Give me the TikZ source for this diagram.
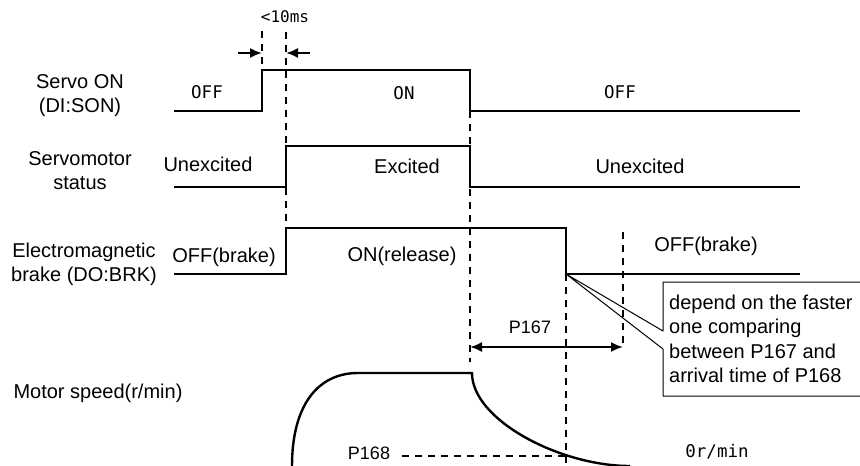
\documentclass[tikz,border=0pt]{standalone}
\usepackage{fontspec}
\setmainfont{Liberation Sans}
\newfontfamily\monofont{DejaVu Sans Mono}
\usetikzlibrary{arrows.meta}
\tikzset{
	sig/.style={line width=2.4pt},
	guide/.style={line width=1.2pt, dash pattern=on 7pt off 6pt, line cap=butt},
	monotxt/.style={font=\monofont\fontsize{17.5}{20}\selectfont},
	lbl/.style={align=center},
	ptxt/.style={font=\fontsize{18}{20}\selectfont},
}
\begin{document}
\begin{tikzpicture}[x=1pt, y=-1pt, font=\fontsize{20}{24}\selectfont, line join=miter, >={Latex[length=12pt,width=10pt]}]
			\useasboundingbox (0,0) rectangle (860,466);
			\draw[sig] (174,111)--(262,111)--(262,70)--(470,70)--(470,111)--(800,111);
			\draw[sig] (174,187)--(286,187)--(286,146)--(470,146)--(470,187)--(800,187);
			\draw[sig] (174,274)--(286,274)--(286,228)--(566,228)--(566,274)--(800,274);
			\draw[sig] (292,466) .. controls (292,405) and (318,373) .. (358,373)--(472,373) .. controls (472,420) and (560,466) .. (630,466);
			\draw[guide] (262,31)--(262,70);
			\draw[guide] (286,32)--(286,228);
			\draw[guide] (470,111)--(470,362);
			\draw[guide] (566,274)--(566,463);
			\draw[guide] (623,232)--(623,347);
			\draw[guide] (402,456)--(566,456);
			\coordinate (tl) at (238,53);
			\coordinate (tr) at (262,53);
			\coordinate (ul) at (286,53);
			\coordinate (ur) at (310,53);
			\draw[->, line width=2pt] (tl)--(tr);
			\draw[->, line width=2pt] (ur)--(ul);
			\coordinate (pa) at (470,347);
			\coordinate (pb) at (623,347);
			\draw[<->, line width=2pt] (pa)--(pb);
			\coordinate (tip) at (566,274);
			\draw[line width=1pt, line join=round] (862,282)--(663,282)--(663,331)--(tip)--(663,349)--(663,396)--(862,396);
			\node[lbl] (son) at (80,96) {Servo ON\\(DI:SON)};
			\node[lbl] (smst) at (80,171) {Servomotor\\status};
			\node[lbl] (brk) at (84,264) {Electromagnetic\\brake (DO:BRK)};
			\node (spd) at (98,393) {Motor speed(r/min)};
			\node[monotxt] (off1) at (207,92) {OFF};
			\node[monotxt] (on1) at (404,93) {ON};
			\node[monotxt] (off2) at (620,92) {OFF};
			\node (unex1) at (208,164) {Unexcited};
			\node (exc) at (407,166) {Excited};
			\node (unex2) at (640,166) {Unexcited};
			\node (offb1) at (224,257) {OFF(brake)};
			\node (onr) at (402,256) {ON(release)};
			\node (offb2) at (706,246) {OFF(brake)};
			\node[monotxt, font=\monofont\fontsize{16}{18}\selectfont] (lt10) at (285,17) {<10ms};
			\node[ptxt] (p167) at (530,327) {P167};
			\node[ptxt] (p168) at (369,453) {P168};
			\node[monotxt] (zero) at (717,452) {0r/min};
			\node[anchor=west, align=left, inner sep=0pt, font=\fontsize{20}{24.5}\selectfont] (note) at (669,339) {depend on the faster\\one comparing\\between P167 and\\arrival time of P168};
		\end{tikzpicture}
\end{document}
